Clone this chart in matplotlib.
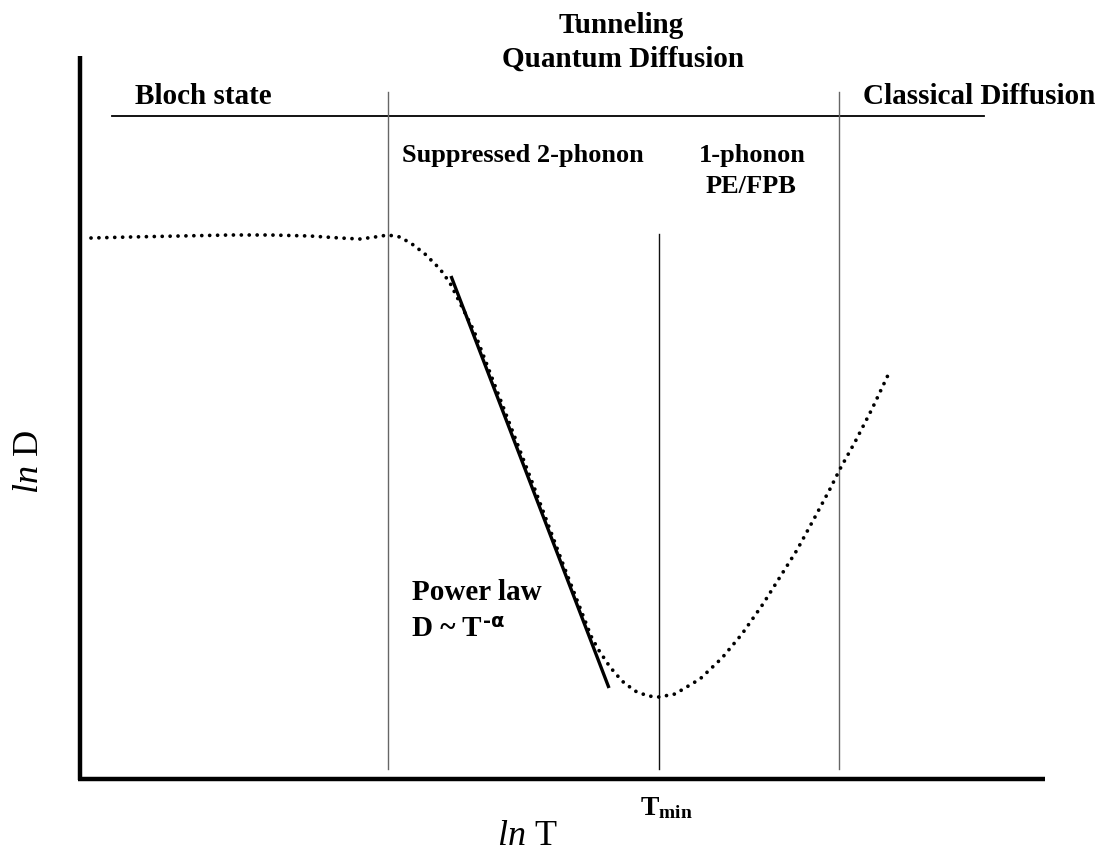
import numpy as np
import matplotlib
matplotlib.use("Agg")
import matplotlib.pyplot as plt

# fonts: Times-like bold everywhere
plt.rcParams['font.family'] = ['Liberation Serif', 'DejaVu Serif']
plt.rcParams['mathtext.fontset'] = 'custom'
plt.rcParams['mathtext.rm'] = 'Liberation Serif'
plt.rcParams['mathtext.it'] = 'Liberation Serif:italic'
plt.rcParams['mathtext.bf'] = 'Liberation Serif:bold'

##############################################################
######################### DATA ###############################
##############################################################
# schematic ln D vs ln T, in figure units (x right, y down)
ln_T = [91, 130, 180, 230, 270, 310, 340, 360, 375, 388, 400, 412, 425, 440, 450,
        474, 504, 534, 563, 591, 598, 610, 622, 635, 648, 659, 675, 700, 722, 742,
        763, 780, 797, 815, 830, 840, 855, 872, 889]
ln_D = [239, 238, 237, 236, 236, 237, 239, 240, 238, 236, 238, 245, 255, 270, 284,
        332, 410, 488, 565, 637, 650, 668, 682, 692, 697, 698, 695, 680, 659, 635,
        605, 578, 551, 518, 490, 470, 443, 410, 374]

# power-law fit segment
fit_T = [451, 609]
fit_D = [277, 689]

# regime boundaries
bound_T = [388, 659, 839]
bound_top = [93, 235, 93]
bound_colors = ['#666666', '#111111', '#666666']
bound_bottom = 770

T_min = 659

##########################################################
######################### PLOT ###########################
##########################################################
fig = plt.figure(figsize=(11.16, 8.54), dpi=100)
ax = fig.add_axes([0, 0, 1, 1])
ax.set_xlim(0, 1116)
ax.set_ylim(854, 0)
ax.axis('off')

# axes frame (thick left and bottom)
ax.plot([80, 80], [57, 781], color='black', lw=3.2, solid_capstyle='butt')
ax.plot([78, 1045], [780, 780], color='black', lw=3.2, solid_capstyle='butt')

# header rule
ax.plot([112, 984], [117, 117], color='black', lw=1.3)

# boundaries
for x, top, c in zip(bound_T, bound_top, bound_colors):
    ax.plot([x, x], [top, bound_bottom], color=c, lw=1.0)

# dotted data curve
ax.plot(ln_T, ln_D, color='black', lw=2.7, linestyle=(0, (0.01, 2.1)),
        dash_capstyle='round')

# power-law line
ax.plot(fit_T, fit_D, color='black', lw=2.4, solid_capstyle='butt')

# labels
bold = dict(fontweight='bold', color='black')
ax.text(621, 33, 'Tunneling', ha='center', va='baseline', fontsize=21, **bold)
ax.text(623, 67, 'Quantum Diffusion', ha='center', va='baseline', fontsize=21, **bold)
ax.text(135, 104, 'Bloch state', ha='left', va='baseline', fontsize=21, **bold)
ax.text(863, 104, 'Classical Diffusion', ha='left', va='baseline', fontsize=21, **bold)
ax.text(402, 162, 'Suppressed 2-phonon', ha='left', va='baseline', fontsize=19, **bold)
ax.text(752, 162, '1-phonon', ha='center', va='baseline', fontsize=19, **bold)
ax.text(751, 193, 'PE/FPB', ha='center', va='baseline', fontsize=19, **bold)
ax.text(412, 600, 'Power law', ha='left', va='baseline', fontsize=21, **bold)
pl = ax.text(412, 636, 'D ~ T', ha='left', va='baseline', fontsize=21, **bold)
ax.text(T_min - 19, 815, r'T$_{\mathbf{min}}$', ha='left', va='baseline', fontsize=20, **bold)

ax.text(497, 845, r'$\mathit{ln}$ T', ha='left', va='baseline', fontsize=26)
ax.text(30, 462, r'$\mathit{ln}$ D', ha='center', va='center', fontsize=26, rotation=90)

# superscript "-α" placed right after "D ~ T"
fig.canvas.draw()
bb = pl.get_window_extent()
x_sup = ax.transData.inverted().transform((bb.x1, bb.y1))[0]
ax.text(x_sup + 1, 627, '-\u03b1', ha='left', va='baseline', fontsize=14,
        fontweight='bold', family=['DejaVu Sans'])

fig.savefig('out.png', dpi=100)
